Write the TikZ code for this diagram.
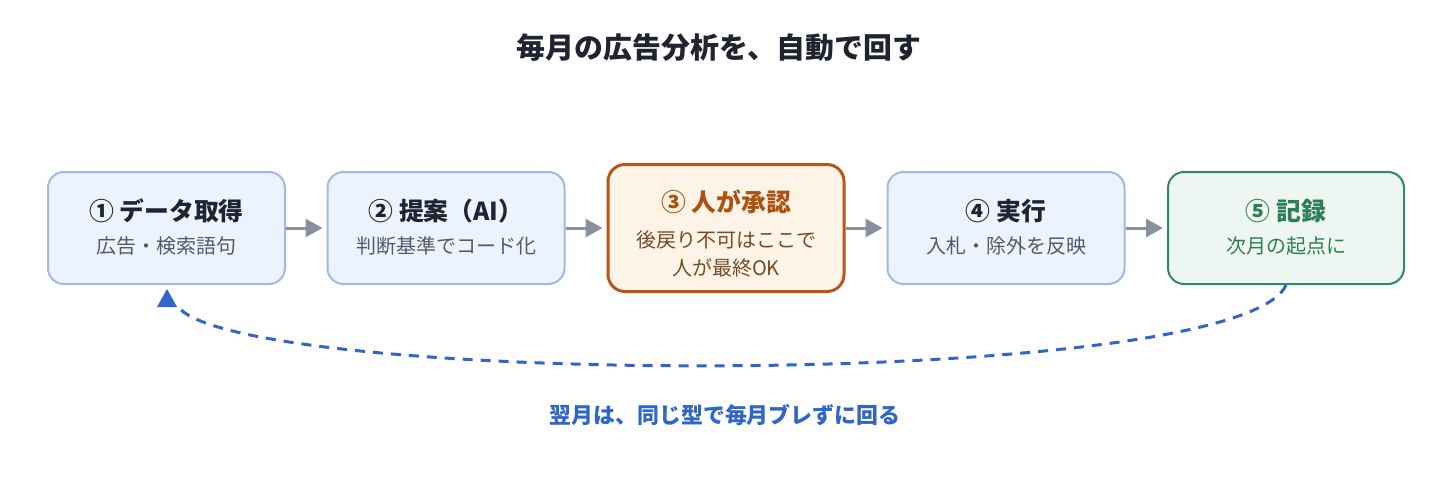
\documentclass[tikz,border=0pt]{standalone}
\usepackage{fontspec}
\setmainfont{Noto Sans CJK JP}
\usetikzlibrary{arrows.meta}
\definecolor{ink}{HTML}{1F2430}
\definecolor{subgray}{HTML}{555B66}
\definecolor{bluefill}{HTML}{EDF3FE}
\definecolor{blueline}{HTML}{9FB8E6}
\definecolor{orfill}{HTML}{FDF3E7}
\definecolor{orline}{HTML}{B5561B}
\definecolor{ortext}{HTML}{B0520F}
\definecolor{orsub}{HTML}{7A4A22}
\definecolor{grfill}{HTML}{EDF6F0}
\definecolor{grline}{HTML}{2F8A62}
\definecolor{grtext}{HTML}{2E7D5B}
\definecolor{arrowgray}{HTML}{8A909E}
\definecolor{loopblue}{HTML}{2F66C8}
\tikzset{
  stepbox/.style={draw=blueline, fill=bluefill, line width=2pt, rounded corners=16pt,
    minimum width=237pt, minimum height=112pt, inner sep=0pt},
  keybox/.style={draw=orline, fill=orfill, line width=3pt, rounded corners=17pt,
    minimum width=236pt, minimum height=127pt, inner sep=0pt},
  donebox/.style={draw=grline, fill=grfill, line width=2pt, rounded corners=16pt,
    minimum width=236pt, minimum height=112pt, inner sep=0pt},
  ttl/.style={font=\fontsize{24.8}{30}\selectfont\bfseries, text=ink, inner sep=0pt},
  sub/.style={font=\fontsize{20}{25}\selectfont, text=subgray, inner sep=0pt},
  flow/.style={draw=arrowgray, line width=3pt, -{Triangle[length=17pt,width=18pt]}, shorten >=4pt},
  loop/.style={draw=loopblue, line width=3pt, dash pattern=on 10pt off 8pt},
}
\begin{document}
\begin{tikzpicture}[x=1pt,y=-1pt]
\useasboundingbox (0,0) rectangle (1440,500);
\fill[white] (0,0) rectangle (1440,500);

\node[font=\fontsize{28.9}{34}\selectfont\bfseries, text=ink, inner sep=0pt] (title) at (719,48) {毎月の広告分析を、自動で回す};

\node[stepbox] (b1) at (166.5,228) {};
\node[stepbox] (b2) at (446,228) {};
\node[keybox] (b3) at (726,228) {};
\node[stepbox] (b4) at (1006,228) {};
\node[donebox] (b5) at (1286,228) {};

\node[ttl] (t1) at (166.5,211) {① データ取得};
\node[sub] (s1) at (166.5,246) {広告・検索語句};
\node[ttl] (t2) at (446,211) {② 提案（AI）};
\node[sub] (s2) at (446,246) {判断基準でコード化};
\node[ttl, text=ortext] (t3) at (726,202) {③ 人が承認};
\node[sub, text=orsub] (s3a) at (726,240) {後戻り不可はここで};
\node[sub, text=orsub] (s3b) at (726,268) {人が最終OK};
\node[ttl] (t4) at (1006,211) {④ 実行};
\node[sub] (s4) at (1006,246) {入札・除外を反映};
\node[ttl, text=grtext] (t5) at (1286,211) {⑤ 記録};
\node[sub, text=grtext] (s5) at (1286,246) {次月の起点に};

\draw[flow] (b1.east) -- (b2.west);
\draw[flow] (b2.east) -- (b3.west);
\draw[flow] (b3.east) -- (b4.west);
\draw[flow] (b4.east) -- (b5.west);

\coordinate (loopend) at (180,309);
\draw[loop] (b5.south) .. controls (1240,390) and (260,387) .. (loopend);
\fill[loopblue] (167,289) -- (177,307) -- (157,307) -- cycle;

\node[font=\fontsize{21.9}{27}\selectfont\bfseries, text=loopblue, inner sep=0pt] (note) at (725,415) {翌月は、同じ型で毎月ブレずに回る};
\end{tikzpicture}
\end{document}
